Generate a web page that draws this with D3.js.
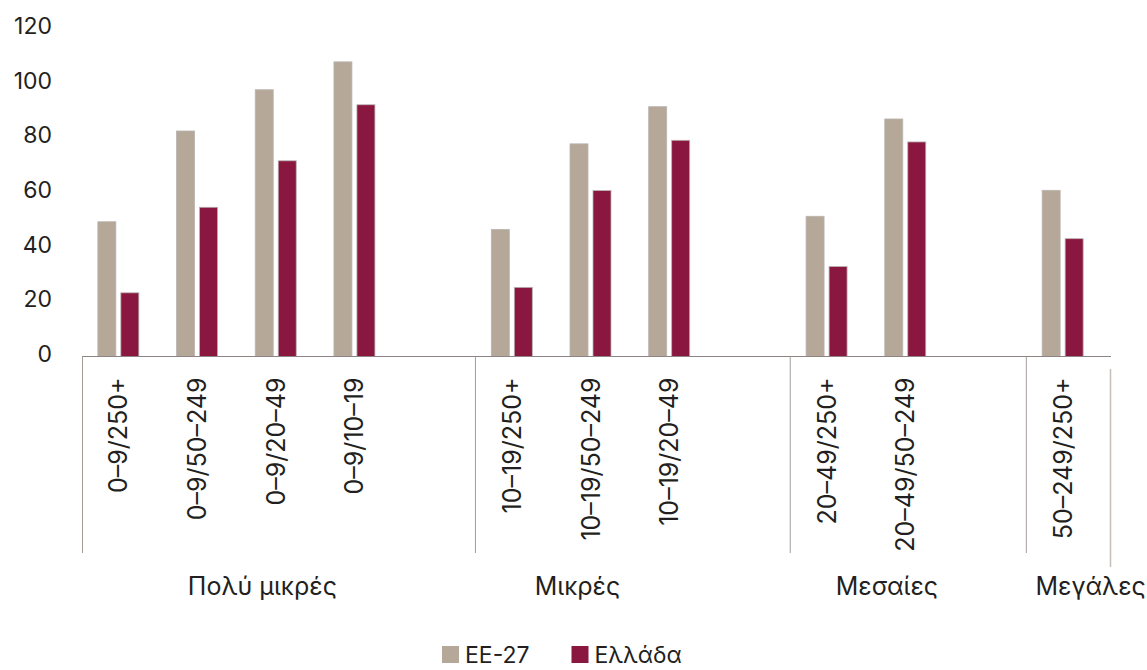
<!DOCTYPE html>
<html>
<head>
<meta charset="utf-8">
<script src="https://cdn.jsdelivr.net/npm/d3@7"></script>
<style>
  html, body { margin: 0; padding: 0; background: #ffffff; }
  svg { display: block; font-family: "Inter", "Noto Sans", sans-serif; }
</style>
</head>
<body>
<svg id="chart" width="1147" height="670"></svg>
<script>
// ---- data ----
const groups = ["Πολύ μικρές", "Μικρές", "Μεσαίες", "Μεγάλες"];
const groupCategories = [
  ["0–9/250+", "0–9/50–249", "0–9/20–49", "0–9/10–19"],
  ["10–19/250+", "10–19/50–249", "10–19/20–49"],
  ["20–49/250+", "20–49/50–249"],
  ["50–249/250+"]
];
const series = ["ΕΕ-27", "Ελλάδα"];
const valuesEU = [49.3, 82.5, 97.6, 107.8, 46.5, 77.8, 91.4, 51.3, 86.9, 60.8];
const valuesGR = [23.3, 54.6, 71.6, 92.1, 25.3, 60.7, 79.1, 32.9, 78.5, 43.1];
const yTicks = [0, 20, 40, 60, 80, 100, 120];

// ---- layout / style ----
const colors = ["#b5a898", "#8a1740"];
const textColor = "#231f20";
const plotTop = 28.5, plotBottom = 356.5;
const xRange = [79, 1102];
const axisLeft = 82, axisRight = 1111;
const groupLabelNudge = [26, -13, 21, 28];

const svg = d3.select("#chart");

// build slots: categories with a blank slot between groups
const slots = [];
const categories = [];
groupCategories.forEach((cats, gi) => {
  cats.forEach(c => { slots.push(c); categories.push({ name: c, group: gi }); });
  if (gi < groupCategories.length - 1) slots.push("__blank" + gi);
});
const rows = categories.map((c, i) => ({ ...c, values: [valuesEU[i], valuesGR[i]] }));

const x = d3.scaleBand().domain(slots).range(xRange).padding(0);
const y = d3.scaleLinear().domain([0, 120]).range([plotBottom, plotTop]);
const clusterW = 41;
const x1 = d3.scaleBand().domain(series).range([0, clusterW]).paddingInner(0.217).paddingOuter(0);

// bars
const g = svg.append("g");
rows.forEach(r => {
  const cx = x(r.name) + x.bandwidth() / 2;
  g.selectAll(null)
    .data(series.map((s, si) => ({ s, si, v: r.values[si] })))
    .enter().append("rect")
    .attr("x", d => cx - clusterW / 2 + x1(d.s))
    .attr("y", d => y(d.v))
    .attr("width", x1.bandwidth())
    .attr("height", d => y(0) - y(d.v))
    .attr("fill", d => colors[d.si])
    .attr("stroke", "#b9b4b0")
    .attr("stroke-width", 0.8);
});

// y axis labels
const yAxis = d3.axisLeft(y).tickValues(yTicks).tickSize(0).tickPadding(0);
const ya = svg.append("g").attr("transform", "translate(52,-2.5)").call(yAxis);
ya.select(".domain").remove();
ya.selectAll("text")
  .attr("fill", textColor)
  .style("font-size", "23px")
  .style("font-family", "Inter, sans-serif")
  .style("font-weight", 400);

// x axis line
svg.append("line")
  .attr("x1", axisLeft).attr("x2", axisRight)
  .attr("y1", y(0)).attr("y2", y(0))
  .attr("stroke", "#8c8583").attr("stroke-width", 1.2);

// group separators
const sepX = groupCategories.map(cats => x(cats[0]));
sepX.forEach((sx, i) => {
  const xx = i === 0 ? axisLeft + 0.5 : sx + 3;
  svg.append("line")
    .attr("x1", xx).attr("x2", xx)
    .attr("y1", y(0)).attr("y2", 553)
    .attr("stroke", "#a39d9a").attr("stroke-width", 1);
});
// right closing line
svg.append("line")
  .attr("x1", axisRight - 0.5).attr("x2", axisRight - 0.5)
  .attr("y1", 369).attr("y2", 567)
  .attr("stroke", "#c4bfbb").attr("stroke-width", 1.5);

// category labels (rotated)
const xa = d3.axisBottom(x).tickValues(categories.map(c => c.name)).tickSize(0).tickPadding(0);
const xg = svg.append("g").attr("transform", `translate(0,${y(0)})`).call(xa);
xg.select(".domain").remove();
xg.selectAll("text")
  .attr("fill", textColor)
  .style("font-size", "25px")
  .style("font-family", "Inter, sans-serif")
  .attr("text-anchor", "end")
  .attr("transform", "translate(0,21) rotate(-90)")
  .attr("x", 0).attr("y", 0).attr("dy", "0.36em");

// group labels
groupCategories.forEach((cats, gi) => {
  const centers = cats.map(c => x(c) + x.bandwidth() / 2);
  const cx = d3.mean(centers) + groupLabelNudge[gi];
  svg.append("text")
    .attr("x", cx).attr("y", 595)
    .attr("text-anchor", "middle")
    .attr("fill", textColor)
    .style("font-size", "25px")
    .text(groups[gi]);
});

// legend
const legend = svg.append("g").attr("transform", "translate(442,646)");
let lx = 0;
series.forEach((s, i) => {
  const item = legend.append("g").attr("transform", `translate(${lx},0)`);
  item.append("rect").attr("width", 17).attr("height", 17).attr("fill", colors[i]);
  const t = item.append("text").attr("x", 23).attr("y", 17)
    .attr("fill", textColor).style("font-size", "23px").text(s);
  lx += 23 + t.node().getComputedTextLength() + 42;
});
</script>
</body>
</html>
